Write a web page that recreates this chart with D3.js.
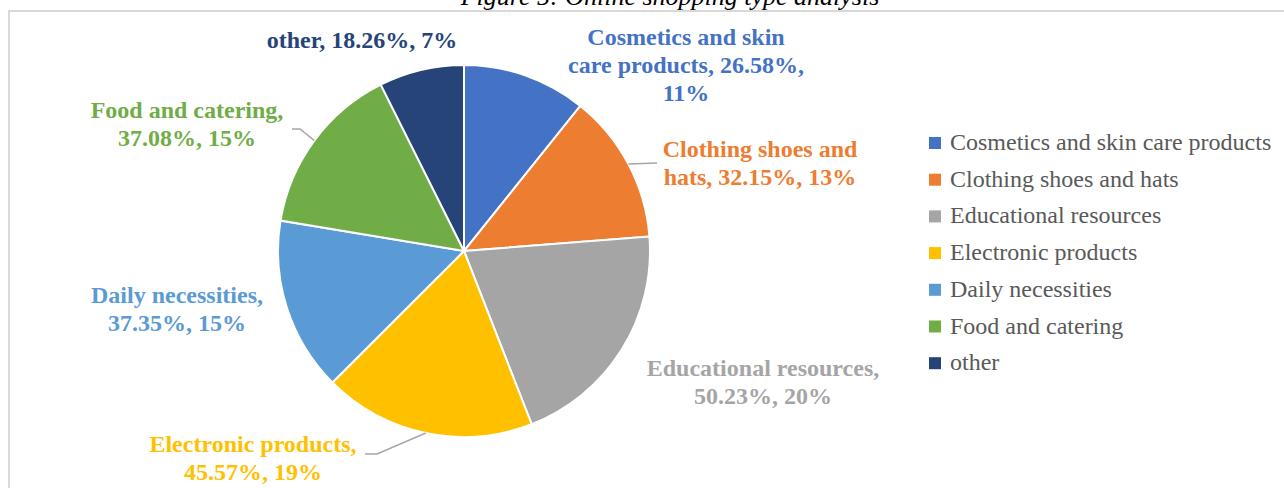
<!DOCTYPE html>
<html>
<head>
<meta charset="utf-8">
<script src="https://cdnjs.cloudflare.com/ajax/libs/d3/7.8.5/d3.min.js"></script>
<style>
  html, body { margin: 0; padding: 0; background: #fff; }
  svg { display: block; }
  .slice { stroke: #fff; stroke-width: 2; }
  .leader { fill: none; stroke: #a6a6a6; stroke-width: 1.5; }
  .data-label { font-family: "Times New Roman", "Liberation Serif", serif; font-weight: bold; font-size: 24px; }
  .legend text { font-family: "Times New Roman", "Liberation Serif", serif; font-size: 24px; fill: #595959; }
  .title { font-family: "Times New Roman", "Liberation Serif", serif; font-style: italic; font-size: 26px; fill: #000; }
</style>
</head>
<body>
<svg id="chart"></svg>
<script>
//
// data
var categories = ['Cosmetics and skin care products', 'Clothing shoes and hats', 'Educational resources',
                  'Electronic products', 'Daily necessities', 'Food and catering', 'other'];
var labelNames = ['Cosmetics and skin care products', 'Clothing shoes and hats', 'Educational resources',
                  'Electronic products', 'Daily necessities', 'Food and catering', 'other'];
var responseRates = [26.58, 32.15, 50.23, 45.57, 37.35, 37.08, 18.26];
var shares = [11, 13, 20, 19, 15, 15, 7];
var colors = ['#4472C4', '#ED7D31', '#A5A5A5', '#FFC000', '#5B9BD5', '#70AD47', '#264478'];
var titleText = 'Figure 5: Online shopping type analysis';

//
// layout
var width = 1284, height = 488,
    cx = 464, cy = 251, radius = 186,
    lineGap = 28;

// label placement: centre x, first baseline, words per line, leader knee points
var labelLayout = [
  { x: 686, y: 45,  words: [3, 3, 1] },
  { x: 760, y: 157, words: [3, 3], leader: [[657, 163]] },
  { x: 763, y: 376, words: [2, 2] },
  { x: 253, y: 452, words: [2, 2], leader: [[377, 454], [365, 454]] },
  { x: 177, y: 303, words: [2, 2] },
  { x: 187, y: 118, words: [3, 2], leader: [[300, 129], [292, 129]] },
  { x: 362, y: 48,  words: [3] }
];

var svg = d3.select('#chart').attr('width', width).attr('height', height);

// title, mostly cut off at the top
svg.append('text').attr('class', 'title')
  .attr('x', 670).attr('y', 5)
  .attr('text-anchor', 'middle')
  .text(titleText);

// chart frame
svg.append('rect')
  .attr('x', 9).attr('y', 11)
  .attr('width', width + 20).attr('height', height + 20)
  .attr('fill', 'none').attr('stroke', '#d9d9d9').attr('stroke-width', 2);

var color = d3.scaleOrdinal().domain(categories).range(colors);

var pie = d3.pie().sort(null).value(function(d) { return d.value; });
var rows = categories.map(function(c, i) {
  return { name: c, label: labelNames[i], value: responseRates[i], share: shares[i], layout: labelLayout[i] };
});
var arcs = pie(rows);

var arc = d3.arc().innerRadius(0).outerRadius(radius),
    edge = d3.arc().innerRadius(radius).outerRadius(radius);

var g = svg.append('g').attr('transform', 'translate(' + cx + ',' + cy + ')');

g.selectAll('path.slice').data(arcs).enter()
  .append('path').attr('class', 'slice')
  .attr('d', arc)
  .attr('fill', function(d) { return color(d.data.name); });

// leader lines
svg.selectAll('path.leader').data(arcs.filter(function(d) { return d.data.layout.leader; })).enter()
  .append('path').attr('class', 'leader')
  .attr('d', function(d) {
    var p = edge.centroid(d),
        pts = [[p[0] + cx, p[1] + cy]].concat(d.data.layout.leader);
    return d3.line()(pts);
  });

// data labels
svg.selectAll('text.data-label').data(arcs).enter()
  .append('text').attr('class', 'data-label')
  .attr('text-anchor', 'middle')
  .attr('fill', function(d) { return color(d.data.name); })
  .each(function(d) {
    var words = (d.data.label + ', ' + d.data.value.toFixed(2) + '%, ' + d.data.share + '%').split(' '),
        lay = d.data.layout,
        t = d3.select(this),
        k = 0;
    lay.words.forEach(function(n, li) {
      t.append('tspan')
        .attr('x', lay.x)
        .attr('y', lay.y + li * lineGap)
        .text(words.slice(k, k + n).join(' '));
      k += n;
    });
  });

// legend
var legend = svg.append('g').attr('class', 'legend')
  .attr('transform', 'translate(929,137)');
var item = legend.selectAll('g').data(categories).enter()
  .append('g')
  .attr('transform', function(d, i) { return 'translate(0,' + (i * 36.7) + ')'; });
item.append('rect')
  .attr('width', 12).attr('height', 12)
  .attr('fill', function(d) { return color(d); });
item.append('text')
  .attr('x', 21).attr('y', 13)
  .text(function(d) { return d; });
</script>
</body>
</html>
